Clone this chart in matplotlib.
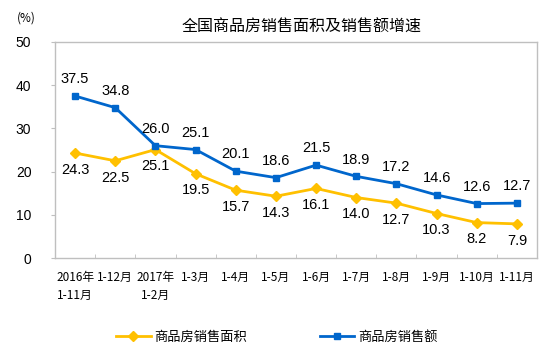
import matplotlib.pyplot as plt
import numpy as np

plt.rcParams['font.family'] = ['Noto Sans CJK SC', 'DejaVu Sans']

# 数据
categories = ['2016年\n1-11月', '1-12月', '2017年\n1-2月', '1-3月', '1-4月', '1-5月',
              '1-6月', '1-7月', '1-8月', '1-9月', '1-10月', '1-11月']
area = [24.3, 22.5, 25.1, 19.5, 15.7, 14.3, 16.1, 14.0, 12.7, 10.3, 8.2, 7.9]
sales = [37.5, 34.8, 26.0, 25.1, 20.1, 18.6, 21.5, 18.9, 17.2, 14.6, 12.6, 12.7]
y_ticks = [0, 10, 20, 30, 40, 50]

yellow = '#FFC000'
blue = '#0066CC'
grey = '#BFBFBF'
num_font = 'Liberation Sans'

fig = plt.figure(figsize=(5.54, 3.58), dpi=100)
ax = fig.add_axes([0.0993, 0.2793, 0.87, 0.6034])

x = np.arange(len(categories))
ax.plot(x, area, color=yellow, lw=2, marker='D', ms=5, label='商品房销售面积')
ax.plot(x, sales, color=blue, lw=2, marker='s', ms=5, label='商品房销售额')

for i in x:
    ax.annotate(f'{sales[i]:.1f}', (i, sales[i]), xytext=(0, 7), textcoords='offset points',
                ha='center', va='bottom', fontsize=10.5, family=num_font)
    ax.annotate(f'{area[i]:.1f}', (i, area[i]), xytext=(0, -7), textcoords='offset points',
                ha='center', va='top', fontsize=10.5, family=num_font)

ax.set_xlim(-0.5, len(categories) - 0.5)
ax.set_ylim(0, 50)
ax.set_yticks(y_ticks)
ax.set_yticklabels([str(v) for v in y_ticks], fontsize=10, family=num_font)
ax.set_xticks(x)
ax.set_xticklabels(categories, fontsize=8.5, va='top', linespacing=1.5)
ax.set_xticks(np.arange(-0.5, len(categories)), minor=True)
ax.tick_params(axis='x', which='major', length=0, pad=9)
ax.tick_params(axis='x', which='minor', direction='in', length=3, color=grey)
ax.tick_params(axis='y', direction='out', length=3, color=grey, pad=14)
for s in ax.spines.values():
    s.set_color(grey)
    s.set_linewidth(1)

fig.text(0.545, 0.925, '全国商品房销售面积及销售额增速', ha='center', va='center', fontsize=11.5)
fig.text(0.047, 0.95, '(%)', ha='center', va='center', fontsize=8.5)

fig.legend(loc='center', bbox_to_anchor=(0.5, 0.058), ncol=2, frameon=False,
           fontsize=9.5, columnspacing=5.5, handlelength=2.6, handletextpad=0.3)

fig.savefig('out.png', dpi=100)
